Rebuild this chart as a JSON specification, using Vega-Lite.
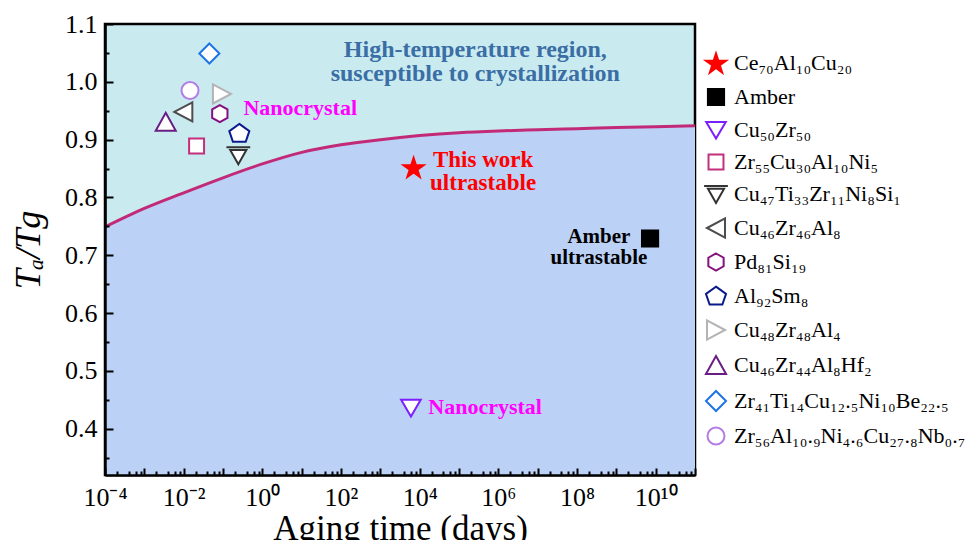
{
  "$schema": "https://vega.github.io/schema/vega-lite/v6.json",
  "width": 590,
  "height": 451,
  "autosize": {"type": "none"},
  "padding": {"left": 105, "top": 24, "right": 277, "bottom": 65},
  "background": "white",
  "config": {
    "font": "Liberation Serif",
    "view": {"fill": "#c9ebf0", "stroke": "black", "strokeWidth": 2.5},
    "axis": {
      "grid": false,
      "domainColor": "black",
      "domainWidth": 2.5,
      "tickColor": "black",
      "tickWidth": 2,
      "labelFont": "Liberation Serif",
      "labelFontSize": 26,
      "labelColor": "black",
      "titleFont": "Liberation Serif",
      "titleFontSize": 35,
      "titleFontWeight": "normal",
      "titleColor": "black",
      "labelOverlap": false,
      "labelFlush": false
    }
  },
  "resolve": {"axis": {"x": "independent", "y": "independent"}},
  "datasets": {
    "curve": [
      {"days": 0.0001, "ratio": 0.749},
      {"days": 0.001, "ratio": 0.781},
      {"days": 0.01, "ratio": 0.808},
      {"days": 0.1, "ratio": 0.834},
      {"days": 1, "ratio": 0.858},
      {"days": 10, "ratio": 0.878},
      {"days": 100, "ratio": 0.891},
      {"days": 1000, "ratio": 0.9},
      {"days": 10000, "ratio": 0.907},
      {"days": 100000, "ratio": 0.912},
      {"days": 1000000, "ratio": 0.915},
      {"days": 10000000, "ratio": 0.917},
      {"days": 100000000, "ratio": 0.919},
      {"days": 1000000000, "ratio": 0.921},
      {"days": 10000000000, "ratio": 0.9225},
      {"days": 100000000000, "ratio": 0.924}
    ],
    "markers": [
      {"name": "Ce₇₀Al₁₀Cu₂₀", "days": 7000, "ratio": 0.852},
      {"name": "Amber", "days": 7200000000, "ratio": 0.729},
      {"name": "Cu₅₀Zr₅₀", "days": 6000, "ratio": 0.436},
      {"name": "Zr₅₅Cu₃₀Al₁₀Ni₅", "days": 0.0213, "ratio": 0.889},
      {"name": "Cu₄₇Ti₃₃Zr₁₁Ni₈Si₁", "days": 0.245, "ratio": 0.873},
      {"name": "Cu₄₆Zr₄₆Al₈", "days": 0.0098, "ratio": 0.948},
      {"name": "Pd₈₁Si₁₉", "days": 0.083, "ratio": 0.945},
      {"name": "Al₉₂Sm₈", "days": 0.26, "ratio": 0.911},
      {"name": "Cu₄₈Zr₄₈Al₄", "days": 0.094, "ratio": 0.979},
      {"name": "Cu₄₆Zr₄₄Al₈Hf₂", "days": 0.0035, "ratio": 0.931},
      {"name": "Zr₄₁Ti₁₄Cu₁₂.₅Ni₁₀Be₂₂.₅", "days": 0.045, "ratio": 1.049},
      {"name": "Zr₅₆Al₁₀.₉Ni₄.₆Cu₂₇.₈Nb₀.₇", "days": 0.0145, "ratio": 0.985}
    ],
    "notes": [
      {"group": "region", "note": "High-temperature region,\nsusceptible to crystallization", "days": 260000, "ratio": 1.055},
      {"group": "nano", "note": "Nanocrystal", "days": 0.33, "ratio": 0.955},
      {"group": "nano", "note": "Nanocrystal", "days": 16600, "ratio": 0.437},
      {"group": "work", "note": "This work\nultrastable", "days": 410000, "ratio": 0.864},
      {"group": "amber", "note": "Amber\nultrastable", "days": 360000000, "ratio": 0.732}
    ]
  },
  "layer": [
    {
      "data": {"name": "curve"},
      "mark": {"type": "area", "color": "#bcd1f6", "interpolate": "monotone", "clip": true},
      "encoding": {
        "x": {
          "field": "days",
          "type": "quantitative",
          "scale": {"type": "log", "domain": [0.0001, 100000000000], "nice": false},
          "axis": {
            "zindex": 1,
            "orient": "bottom",
            "title": "Aging time (days)",
            "values": [0.0001,0.001,0.01,0.1,1,10,100,1000,10000,100000,1000000,10000000,100000000,1000000000,10000000000,100000000000],
            "labelExpr": "datum.value == 0.0001 ? '10⁻⁴' : datum.value == 0.01 ? '10⁻²' : datum.value == 1 ? '10⁰' : datum.value == 100 ? '10²' : datum.value == 10000 ? '10⁴' : datum.value == 1000000 ? '10⁶' : datum.value == 100000000 ? '10⁸' : datum.value == 10000000000 ? '10¹⁰' : ''",
            "tickSize": -7,
            "labelPadding": 16,
            "titleY": 64,
            "titleBaseline": "alphabetic"
          }
        },
        "y": {
          "field": "ratio",
          "type": "quantitative",
          "scale": {"domain": [0.32, 1.1], "nice": false, "zero": false},
          "axis": {
            "zindex": 1,
            "orient": "left",
            "title": "Tₐ/Tg",
            "titleFontStyle": "italic",
            "titleFontSize": 36,
            "values": [0.4,0.5,0.6,0.7,0.8,0.9,1.0,1.1],
            "labelExpr": "format(datum.value, '.1f')",
            "tickSize": -8,
            "labelPadding": 16,
            "titleX": -77,
            "titleBaseline": "middle"
          }
        },
        "y2": {"datum": 0.32}
      }
    },
    {
      "data": {"name": "curve"},
      "mark": {"type": "line", "color": "#c22a78", "strokeWidth": 3, "interpolate": "monotone", "clip": true},
      "encoding": {
        "x": {
          "field": "days",
          "type": "quantitative",
          "axis": {
            "zindex": 1,
            "orient": "bottom",
            "title": null,
            "labels": false,
            "domain": false,
            "values": [0.0002,0.0004,0.0006,0.0008,0.002,0.004,0.006,0.008,0.02,0.04,0.06,0.08,0.2,0.4,0.6,0.8,2,4,6,8,20,40,60,80,200,400,600,800,2000,4000,6000,8000,20000,40000,60000,80000,200000,400000,600000,800000,2000000,4000000,6000000,8000000,20000000,40000000,60000000,80000000,200000000,400000000,600000000,800000000,2000000000,4000000000,6000000000,8000000000,20000000000,40000000000,60000000000,80000000000],
            "tickSize": -4
          }
        },
        "y": {
          "field": "ratio",
          "type": "quantitative",
          "axis": {
            "zindex": 1,
            "orient": "left",
            "title": null,
            "labels": false,
            "domain": false,
            "values": [0.35,0.45,0.55,0.65,0.75,0.85,0.95,1.05],
            "tickSize": -4
          }
        }
      }
    },
    {
      "data": {"name": "markers"},
      "mark": {"type": "point", "size": 289, "strokeWidth": 2, "opacity": 1},
      "encoding": {
        "x": {"field": "days", "type": "quantitative", "axis": null},
        "y": {"field": "ratio", "type": "quantitative", "axis": null},
        "shape": {
          "field": "name",
          "type": "nominal",
          "scale": {
            "domain": ["Ce₇₀Al₁₀Cu₂₀","Amber","Cu₅₀Zr₅₀","Zr₅₅Cu₃₀Al₁₀Ni₅","Cu₄₇Ti₃₃Zr₁₁Ni₈Si₁","Cu₄₆Zr₄₆Al₈","Pd₈₁Si₁₉","Al₉₂Sm₈","Cu₄₈Zr₄₈Al₄","Cu₄₆Zr₄₄Al₈Hf₂","Zr₄₁Ti₁₄Cu₁₂.₅Ni₁₀Be₂₂.₅","Zr₅₆Al₁₀.₉Ni₄.₆Cu₂₇.₈Nb₀.₇"],
            "range": [
              "M0,-1.12L0.278,-0.263L1.179,-0.263L0.45,0.266L0.729,1.123L0,0.594L-0.729,1.123L-0.45,0.266L-1.179,-0.263L-0.278,-0.263Z",
              "M-0.95,-0.95L0.95,-0.95L0.95,0.95L-0.95,0.95Z",
              "M-1.15,-0.95L1.15,-0.95L0,1.0Z",
              "M-0.88,-0.88L0.88,-0.88L0.88,0.88L-0.88,0.88Z",
              "M-1.4,-0.95L1.4,-0.95M-0.95,-0.62L0.95,-0.62L0,1.05Z",
              "M-1.06,0L1.06,-1.12L1.06,1.12Z",
              "M0,-1L0.9,-0.5L0.9,0.5L0,1L-0.9,0.5L-0.9,-0.5Z",
              "M0,-1.1L1.18,-0.25L0.75,1.0L-0.75,1.0L-1.18,-0.25Z",
              "M1.06,0L-1.06,-1.12L-1.06,1.12Z",
              "M0,-1.06L1.18,1.06L-1.18,1.06Z",
              "M0,-1.18L1.18,0L0,1.18L-1.18,0Z",
              "circle"
            ]
          },
          "legend": {
            "title": null,
            "orient": "none",
            "legendX": 600,
            "legendY": 28,
            "padding": 0,
            "labelFont": "Liberation Serif",
            "labelFontSize": 22,
            "labelColor": "black",
            "labelLimit": 400,
            "labelOffset": 7,
            "rowPadding": 7,
            "symbolSize": 289,
            "symbolStrokeWidth": 2,
            "symbolOpacity": 1
          }
        },
        "fill": {
          "field": "name",
          "type": "nominal",
          "scale": {
            "domain": ["Ce₇₀Al₁₀Cu₂₀","Amber","Cu₅₀Zr₅₀","Zr₅₅Cu₃₀Al₁₀Ni₅","Cu₄₇Ti₃₃Zr₁₁Ni₈Si₁","Cu₄₆Zr₄₆Al₈","Pd₈₁Si₁₉","Al₉₂Sm₈","Cu₄₈Zr₄₈Al₄","Cu₄₆Zr₄₄Al₈Hf₂","Zr₄₁Ti₁₄Cu₁₂.₅Ni₁₀Be₂₂.₅","Zr₅₆Al₁₀.₉Ni₄.₆Cu₂₇.₈Nb₀.₇"],
            "range": ["#ff0000","#000000","#ffffff","#ffffff","#ffffff","#ffffff","#ffffff","#ffffff","#ffffff","#ffffff","#ffffff","#ffffff"]
          }
        },
        "stroke": {
          "field": "name",
          "type": "nominal",
          "scale": {
            "domain": ["Ce₇₀Al₁₀Cu₂₀","Amber","Cu₅₀Zr₅₀","Zr₅₅Cu₃₀Al₁₀Ni₅","Cu₄₇Ti₃₃Zr₁₁Ni₈Si₁","Cu₄₆Zr₄₆Al₈","Pd₈₁Si₁₉","Al₉₂Sm₈","Cu₄₈Zr₄₈Al₄","Cu₄₆Zr₄₄Al₈Hf₂","Zr₄₁Ti₁₄Cu₁₂.₅Ni₁₀Be₂₂.₅","Zr₅₆Al₁₀.₉Ni₄.₆Cu₂₇.₈Nb₀.₇"],
            "range": ["#ff0000","#000000","#7b1fff","#c2307d","#333333","#4d4d4d","#85107f","#0a1a8a","#b4b4b4","#6a1d85","#1f74e6","#b47ce6"]
          }
        }
      }
    },
    {
      "data": {"name": "notes"},
      "transform": [{"filter": "datum.group == 'region'"}],
      "mark": {"type": "text", "font": "Liberation Serif", "fontWeight": "bold", "fontSize": 24, "lineHeight": 24, "lineBreak": "\n", "color": "#3a6ea5", "align": "center", "baseline": "middle"},
      "encoding": {
        "x": {"field": "days", "type": "quantitative", "axis": null},
        "y": {"field": "ratio", "type": "quantitative", "axis": null},
        "text": {"field": "note"}
      }
    },
    {
      "data": {"name": "notes"},
      "transform": [{"filter": "datum.group == 'nano'"}],
      "mark": {"type": "text", "font": "Liberation Serif", "fontWeight": "bold", "fontSize": 22, "color": "#ff00ff", "align": "left", "baseline": "middle"},
      "encoding": {
        "x": {"field": "days", "type": "quantitative", "axis": null},
        "y": {"field": "ratio", "type": "quantitative", "axis": null},
        "text": {"field": "note"}
      }
    },
    {
      "data": {"name": "notes"},
      "transform": [{"filter": "datum.group == 'work'"}],
      "mark": {"type": "text", "font": "Liberation Serif", "fontWeight": "bold", "fontSize": 23, "lineHeight": 23, "lineBreak": "\n", "color": "#ff0000", "align": "center", "baseline": "middle"},
      "encoding": {
        "x": {"field": "days", "type": "quantitative", "axis": null},
        "y": {"field": "ratio", "type": "quantitative", "axis": null},
        "text": {"field": "note"}
      }
    },
    {
      "data": {"name": "notes"},
      "transform": [{"filter": "datum.group == 'amber'"}],
      "mark": {"type": "text", "font": "Liberation Serif", "fontWeight": "bold", "fontSize": 21, "lineHeight": 21, "lineBreak": "\n", "color": "#000000", "align": "center", "baseline": "middle"},
      "encoding": {
        "x": {"field": "days", "type": "quantitative", "axis": null},
        "y": {"field": "ratio", "type": "quantitative", "axis": null},
        "text": {"field": "note"}
      }
    }
  ]
}
